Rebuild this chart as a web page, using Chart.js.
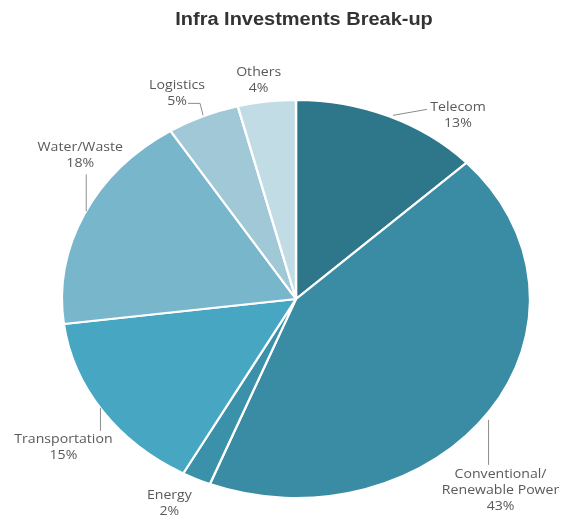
<!DOCTYPE html>
<html>
<head>
<meta charset="utf-8">
<script src="https://cdn.jsdelivr.net/npm/chart.js@4/dist/chart.umd.min.js"></script>
<style>
    html, body { margin: 0; padding: 0; background: #fff; }
    #wrap { position: relative; width: 568px; height: 515px; }
    #title {
        position: absolute; left: 0; width: 608px; top: 10px;
        text-align: center; font: bold 18px "Liberation Sans", Arial, sans-serif;
        line-height: 18px; color: #333;
    }
    #title span { display: inline-block; transform: scaleX(1.11); }
    canvas { position: absolute; left: 0; top: 0; }
</style>
</head>
<body>
<div id="wrap">
    <canvas id="pie" width="568" height="515"></canvas>
    <div id="title"><span>Infra Investments Break-up</span></div>
</div>
<script>
// Data
const categories = ['Telecom', 'Conventional/\nRenewable Power', 'Energy', 'Transportation', 'Water/Waste', 'Logistics', 'Others'];
const shares = [13, 43, 2, 15, 18, 5, 4];
const sliceColors = ['#2e778b', '#3a8ca4', '#3b91aa', '#47a7c3', '#78b6cb', '#a0c8d7', '#c2dce6'];

// label placement, relative to the slice's outer edge midpoint (page px)
const labelOffsets = [[69, -9], [11, 64], [-27, 17], [-39, 29], [-4, -67], [-26, -31], [-8, -29]];
const leaders = [
    [[4, -1], [38, -7]],
    [[-1, 9], [-1, 54]],
    null,
    [[-2, -3], [-2, 20]],
    [[2, -3], [2, -40]],
    [[0, -1], [-3, -13], [-15, -13]],
    null
];

const STRETCH = 1.176; // the pie in the picture is an ellipse

const ellipsePlugin = {
    id: 'ellipse',
    beforeDatasetsDraw(chart) {
        const arc = chart.getDatasetMeta(0).data[0];
        const ctx = chart.ctx;
        ctx.save();
        ctx.translate(arc.x, 0);
        ctx.scale(STRETCH, 1);
        ctx.translate(-arc.x, 0);
    },
    afterDatasetsDraw(chart) {
        const ctx = chart.ctx;
        ctx.restore();

        chart.getDatasetMeta(0).data.forEach((arc, i) => {
            const p = arc.getProps(['x', 'y', 'startAngle', 'endAngle', 'outerRadius'], true);
            const mid = (p.startAngle + p.endAngle) / 2;
            const ax = p.x + STRETCH * p.outerRadius * Math.cos(mid);
            const ay = p.y + p.outerRadius * Math.sin(mid);

            // leader line
            if (leaders[i]) {
                ctx.save();
                ctx.strokeStyle = '#8c8c8c';
                ctx.lineWidth = 1;
                ctx.beginPath();
                leaders[i].forEach((pt, k) => {
                    if (k === 0) ctx.moveTo(ax + pt[0], ay + pt[1]);
                    else ctx.lineTo(ax + pt[0], ay + pt[1]);
                });
                ctx.stroke();
                ctx.restore();
            }

            // text
            const lines = categories[i].split('\n').concat([shares[i] + '%']);
            const tx = ax + labelOffsets[i][0];
            const ty = ay + labelOffsets[i][1];
            ctx.save();
            ctx.fillStyle = '#595959';
            ctx.font = '12px "Open Sans", sans-serif';
            ctx.textAlign = 'center';
            ctx.textBaseline = 'middle';
            lines.forEach((line, k) => {
                ctx.save();
                ctx.translate(tx, ty + k * 16);
                ctx.scale(STRETCH, 1);
                ctx.fillText(line, 0, 0);
                ctx.restore();
            });
            ctx.restore();
        });
    }
};

document.addEventListener('DOMContentLoaded', () => {
    new Chart(document.getElementById('pie').getContext('2d'), {
        type: 'pie',
        data: {
            labels: categories,
            datasets: [{
                data: shares,
                backgroundColor: sliceColors,
                borderColor: '#fff',
                borderWidth: 2
            }]
        },
        options: {
            responsive: false,
            animation: false,
            layout: { padding: { left: 24, right: 0, top: 99, bottom: 16 } },
            plugins: {
                legend: { display: false },
                tooltip: { enabled: false }
            }
        },
        plugins: [ellipsePlugin]
    });
});
</script>
</body>
</html>
